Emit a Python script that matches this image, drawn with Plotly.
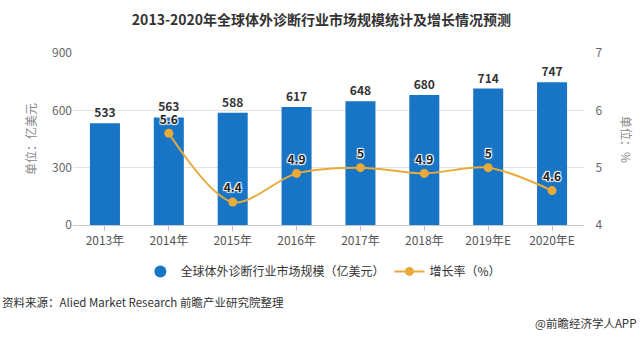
import plotly.graph_objects as go

categories = ["2013年", "2014年", "2015年", "2016年", "2017年", "2018年", "2019年E", "2020年E"]
market_size = [533, 563, 588, 617, 648, 680, 714, 747]
growth_rate = [None, 5.6, 4.4, 4.9, 5, 4.9, 5, 4.6]
growth_labels = ["" if v is None else f"{v:g}" for v in growth_rate]

BLUE = "#1874c4"
GOLD = "#e8ab3a"
FONT = "Noto Sans CJK SC"

fig = go.Figure()
fig.add_trace(go.Bar(
    x=categories, y=market_size, name="全球体外诊断行业市场规模（亿美元）",
    marker=dict(color=BLUE, line=dict(width=0)),
    text=[str(v) for v in market_size], textposition="outside",
    textfont=dict(family=FONT, size=12, color="#333333", weight="bold"),
    cliponaxis=False, showlegend=False,
))
fig.add_trace(go.Scatter(
    x=[None], y=[None], mode="markers", name="全球体外诊断行业市场规模（亿美元）",
    marker=dict(color=BLUE, size=12, symbol="circle"), showlegend=True,
))
fig.add_trace(go.Scatter(
    x=categories, y=growth_rate, name="增长率（%）", yaxis="y2",
    mode="lines+markers+text",
    line=dict(color=GOLD, width=2, shape="spline", smoothing=0.9),
    marker=dict(color=GOLD, size=9),
    text=growth_labels, textposition="top center",
    textfont=dict(family=FONT, size=12, color="#222222", weight="bold", shadow="1px 1px 1px white, -1px -1px 1px white, 1px -1px 1px white, -1px 1px 1px white"),
    connectgaps=False, cliponaxis=False,
))

fig.update_layout(
    width=643, height=337,
    margin=dict(l=73, r=59, t=53, b=112),
    paper_bgcolor="white", plot_bgcolor="white",
    font=dict(family=FONT, size=12, color="#555555"),
    bargap=0.53,
    title=dict(text="<b>2013-2020年全球体外诊断行业市场规模统计及增长情况预测</b>",
               x=0.5, xanchor="center", y=0.94, yanchor="middle",
               font=dict(family=FONT, size=14, color="#333333")),
    xaxis=dict(showgrid=False, showline=True, linecolor="#c8c8c8", linewidth=1,
               ticks="outside", ticklen=5, tickcolor="#c8c8c8",
               tickfont=dict(size=12, color="#555555")),
    yaxis=dict(range=[0, 900], dtick=300, showgrid=True, gridcolor="#e3e3e3",
               zeroline=False, showline=False, ticks="",
               tickfont=dict(size=12, color="#666666"),
               title=dict(text="单位：亿美元", font=dict(size=12, color="#888888"), standoff=12)),
    yaxis2=dict(range=[4, 7], dtick=1, overlaying="y", side="right", showgrid=False,
                zeroline=False, showline=False, ticks="outside", ticklen=8, tickcolor="rgba(0,0,0,0)",
                tickfont=dict(size=12, color="#666666")),
    legend=dict(orientation="h", x=0.49, xanchor="center", y=-0.27, yanchor="middle",
                font=dict(size=12, color="#333333"), itemwidth=30,
                bgcolor="rgba(0,0,0,0)"),
)

fig.add_annotation(text="单位：%", textangle=90,
                   xref="paper", yref="paper", x=(627-73)/511, y=0.5, xanchor="center", yanchor="middle",
                   showarrow=False, font=dict(size=12, color="#888888"))
fig.add_annotation(text="资料来源：Alied Market Research 前瞻产业研究院整理",
                   xref="paper", yref="paper", x=-73/511, y=-0.45, xanchor="left", yanchor="middle",
                   showarrow=False, font=dict(size=11.5, color="#333333"))
fig.add_annotation(text="@前瞻经济学人APP",
                   xref="paper", yref="paper", x=(638-73)/511, y=-0.57, xanchor="right", yanchor="middle",
                   showarrow=False, font=dict(size=11.5, color="#333333"))

fig.write_html("out.html")
